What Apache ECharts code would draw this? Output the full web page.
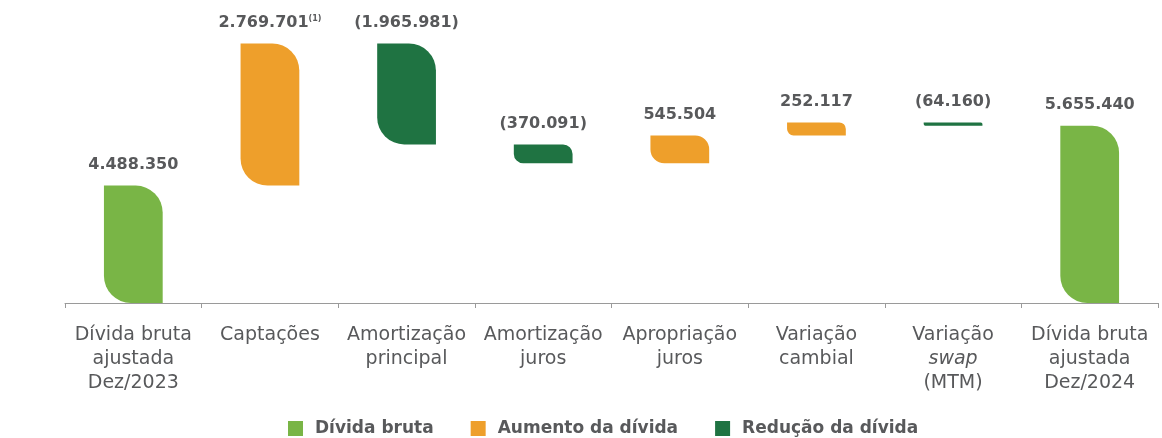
<!DOCTYPE html>
<html>
<head>
<meta charset="utf-8">
<script src="https://cdn.jsdelivr.net/npm/echarts@6/dist/echarts.min.js"></script>
<style>
  html, body { margin: 0; padding: 0; background: #fff; }
  #chart { width: 1162px; height: 438px; }
</style>
</head>
<body>
<div id="chart"></div>
<script>
// categorias do eixo x
var categories = [
    'Dívida bruta\najustada\nDez/2023',
    'Captações',
    'Amortização\nprincipal',
    'Amortização\njuros',
    'Apropriação\njuros',
    'Variação\ncambial',
    'Variação\n{i|swap}\n(MTM)',
    'Dívida bruta\najustada\nDez/2024'
];
// valores (R$ mil)
var values = [4488350, 2769701, -1965981, -370091, 545504, 252117, -64160, 5655440];
// tipo de cada barra: total, aumento, redução
var kinds = ['total', 'up', 'down', 'down', 'up', 'up', 'down', 'total'];
var valueLabels = ['4.488.350', '2.769.701', '(1.965.981)', '(370.091)', '545.504', '252.117', '(64.160)', '5.655.440'];
var notes = ['', '(1)', '', '', '', '', '', ''];

var seriesNames = ['Dívida bruta', 'Aumento da dívida', 'Redução da dívida'];
var colors = ['#79b546', '#ee9f2b', '#1f7342'];

var textColor = '#58595b';
var font = 'DejaVu Sans';

// monta low/high de cada barra a partir do acumulado
var dataByKind = { total: [], up: [], down: [] };
var running = 0;
for (var i = 0; i < values.length; i++) {
    var v = values[i];
    var low, high;
    if (kinds[i] === 'total') {
        low = 0; high = v; running = v;
    } else {
        var next = running + v;
        low = Math.min(running, next);
        high = Math.max(running, next);
        running = next;
    }
    dataByKind[kinds[i]].push([i, low, high]);
}

function renderBar(color) {
    return function (params, api) {
        var idx = api.value(0);
        var top = api.coord([idx, api.value(2)]);
        var bot = api.coord([idx, api.value(1)]);
        var cs = params.coordSys;
        var yBottom = Math.min(bot[1], cs.y + cs.height);
        var w = api.size([1, 0])[0] * 0.43;
        var h = yBottom - top[1];
        var r = Math.min(27, h / 2);
        var text = '{v|' + valueLabels[idx] + '}';
        if (notes[idx]) text += '{s|' + notes[idx] + '}';
        return {
            type: 'rect',
            shape: { x: top[0] - w / 2, y: top[1], width: w, height: h, r: [0, r, 0, r] },
            style: { fill: color },
            textContent: {
                style: {
                    text: text,
                    rich: {
                        v: { fontFamily: font, fontWeight: 'bold', fontSize: 16, fill: textColor },
                        s: { fontFamily: font, fontWeight: 'bold', fontSize: 8, fill: textColor, verticalAlign: 'top' }
                    }
                }
            },
            textConfig: { position: 'top', distance: 13 }
        };
    };
}

var kindKeys = ['total', 'up', 'down'];
var series = [];
for (var k = 0; k < kindKeys.length; k++) {
    series.push({
        name: seriesNames[k],
        type: 'custom',
        itemStyle: { color: colors[k] },
        encode: { x: 0, y: [1, 2] },
        renderItem: renderBar(colors[k]),
        data: dataByKind[kindKeys[k]]
    });
}

var myChart = echarts.init(document.getElementById('chart'));
var options = {
    animation: false,
    grid: { left: 65, right: 4, top: 26, bottom: 135, containLabel: false },
    legend: {
        data: seriesNames,
        left: 288,
        top: 420,
        padding: 0,
        icon: 'rect',
        itemWidth: 15,
        itemHeight: 15,
        itemGap: 37,
        textStyle: {
            fontFamily: font,
            fontWeight: 'bold',
            fontSize: 17,
            color: textColor,
            padding: [0, 0, 0, 7]
        }
    },
    xAxis: {
        type: 'category',
        data: categories,
        axisLine: { lineStyle: { color: '#9a9a9a', width: 1 } },
        axisTick: { show: true, length: 5, lineStyle: { color: '#9a9a9a' } },
        axisLabel: {
            interval: 0,
            margin: 20,
            fontFamily: font,
            fontSize: 19,
            lineHeight: 24,
            color: textColor,
            rich: {
                i: { fontFamily: font, fontSize: 19, fontStyle: 'italic', color: textColor, lineHeight: 24 }
            }
        }
    },
    yAxis: {
        type: 'value',
        min: 2200000,
        max: 7600000,
        show: false,
        splitLine: { show: false }
    },
    series: series
};
myChart.setOption(options, true);
</script>
</body>
</html>
